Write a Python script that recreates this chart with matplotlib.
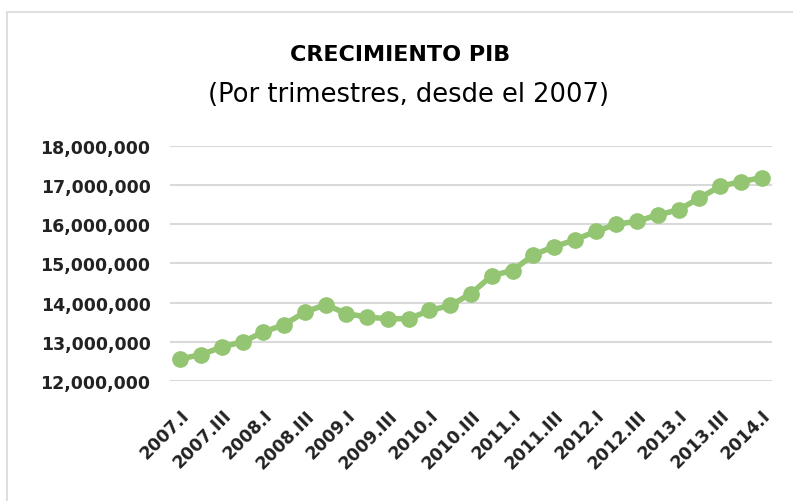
import matplotlib
matplotlib.use("Agg")
import matplotlib.pyplot as plt
from matplotlib.patches import Rectangle
from matplotlib.ticker import FuncFormatter

# PIB trimestral, 2007.I - 2014.I
years = list(range(2007, 2015))
quarters = ["I", "II", "III", "IV"]
labels = [f"{y}.{q}" for y in years for q in quarters][:29]
pib = [12570000, 12670000, 12870000, 13000000, 13250000, 13440000,
       13760000, 13950000, 13720000, 13630000, 13590000, 13590000,
       13800000, 13930000, 14230000, 14690000, 14820000, 15220000,
       15430000, 15600000, 15820000, 16000000, 16080000, 16240000,
       16370000, 16670000, 16970000, 17090000, 17190000]

title = "CRECIMIENTO PIB"
subtitle = "(Por trimestres, desde el 2007)"

green = "#93c572"
grid_grey = "#d9d9d9"

fig = plt.figure(figsize=(7.93, 5.02), dpi=100)
fig.patches.append(Rectangle((7 / 793, -0.1), 1.2, 1 - 13 / 502 + 0.1,
                             transform=fig.transFigure, fill=False,
                             edgecolor=grid_grey, linewidth=1.2))

ax = fig.add_axes([170 / 793, 1 - 382 / 502, 602 / 793, 235 / 502])
x = list(range(len(pib)))
ax.plot(x, pib, color=green, linewidth=4, marker="o", markersize=11,
        solid_capstyle="round", zorder=3)

ax.set_xlim(-0.5, len(pib) - 0.5)
ax.set_ylim(12000000, 18000000)
ax.set_yticks(range(12000000, 18000001, 1000000))
ax.yaxis.set_major_formatter(FuncFormatter(lambda v, p: f"{int(v):,}"))
ax.set_xticks(x[::2])
ax.set_xticklabels(labels[::2], rotation=45, ha="right",
                   rotation_mode="anchor", fontweight="bold", fontsize=12.5)
for t in ax.get_yticklabels():
    t.set_fontweight("bold")
    t.set_fontsize(12.5)

ax.grid(axis="y", color=grid_grey, linewidth=1.5)
ax.set_axisbelow(True)
for s in ax.spines.values():
    s.set_visible(False)
ax.tick_params(length=0, colors="#222222")
ax.tick_params(axis="y", pad=14)
ax.tick_params(axis="x", pad=18)

fig.text(0.505, 1 - 55 / 502, title, ha="center", va="center",
         fontsize=16, fontweight="bold")
fig.text(0.515, 1 - 95 / 502, subtitle, ha="center", va="center",
         fontsize=18.5)

fig.savefig("out.png", dpi=100, facecolor="white")
